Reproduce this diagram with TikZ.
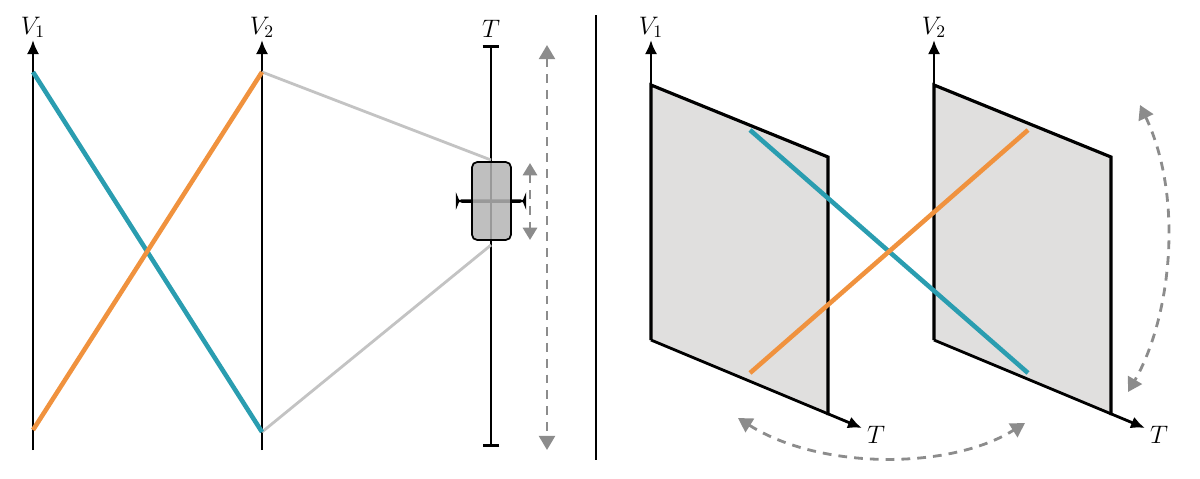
\documentclass[tikz,border=0pt]{standalone}
\usepackage{fontspec}
\setmainfont{Open Sans}
\usetikzlibrary{arrows.meta}
\definecolor{tealline}{HTML}{2A9DB0}
\definecolor{orangeline}{HTML}{F0923E}
\definecolor{dashgray}{HTML}{8C8C8C}
\definecolor{panelfill}{HTML}{E0DFDE}
\definecolor{boxfill}{HTML}{B4B4B4}
\tikzset{
  axis/.style={line width=1.6pt, -{Latex[length=8pt,width=7pt]}},
  cross/.style={line width=2.6pt},
  swing/.style={dashgray, line width=1.6pt, dash pattern=on 5pt off 4pt, {Triangle[length=8pt,width=9pt]}-{Triangle[length=8pt,width=9pt]}},
  lbl/.style={font=\Large\itshape, inner sep=1pt}
}
\begin{document}
\begin{tikzpicture}[x=0.02cm,y=-0.02cm]
    \useasboundingbox (0,0) rectangle (1200,478);
    % left: parallel axes
    \coordinate (A1) at (33,450);
    \coordinate (A1t) at (33,40);
    \coordinate (A2) at (262,450);
    \coordinate (A2t) at (262,40);
    \draw[axis] (A1) -- (A1t);
    \draw[axis] (A2) -- (A2t);
    \node[lbl, anchor=south] (v1l) at (A1t) {$V_1$};
    \node[lbl, anchor=south] (v2l) at (A2t) {$V_2$};
    \coordinate (Tb) at (491,447);
    \coordinate (Tt) at (491,45);
    \draw[line width=1.6pt, |-|] (Tb) -- (Tt);
    \node[lbl, anchor=south] (tl) at (491,40) {$T$};
    % brushing lines
    \draw[boxfill!80, line width=1.6pt] (262,72) -- (491,160);
    \draw[boxfill!80, line width=1.6pt] (262,432) -- (491,245);
    \draw[cross, tealline] (33,72) -- (262,432);
    \draw[cross, orangeline] (33,430) -- (262,72);
    \node[draw, fill=boxfill, fill opacity=0.9, rounded corners=3pt, line width=1pt, minimum width=39\pgflinewidth, inner sep=0pt] (brush) at (491,201) {};
    \draw[draw=black, fill=boxfill, fill opacity=0.85, rounded corners=3pt, line width=1pt] (472,162) rectangle (511,240);
    \draw[swing, {Triangle[length=7pt,width=8pt]}-{Triangle[length=7pt,width=8pt]}] (530,163) -- (530,240);
    \draw[swing] (547,45) -- (547,450);
    % divider
    \draw[line width=1pt] (596,15) -- (596,460);
    % right: panels
    \foreach \px/\nm in {651/1, 934/2} {
      \fill[panelfill] (\px,85) -- (\px+177,157) -- (\px+177,415) -- (\px,340) -- cycle;
      \draw[line width=1.8pt] (\px,340) -- (\px,85) -- (\px+177,157) -- (\px+177,415);
      \draw[axis] (\px,340) -- (\px+211,428);
      \draw[axis] (\px,340) -- (\px,40);
      \node[lbl, anchor=south] at (\px,40) {$V_\nm$};
      \node[lbl, anchor=west] at (\px+214,435) {$T$};
    }
    \draw[cross, tealline] (750,130) -- (1028,373);
    \draw[cross, orangeline] (750,373) -- (1028,130);
    % rotation hints
    \draw[swing] (1140,105) .. controls (1185,200) and (1170,320) .. (1128,392);
    \draw[swing] (738,418) .. controls (820,470) and (950,470) .. (1025,423);
\end{tikzpicture}
\end{document}
